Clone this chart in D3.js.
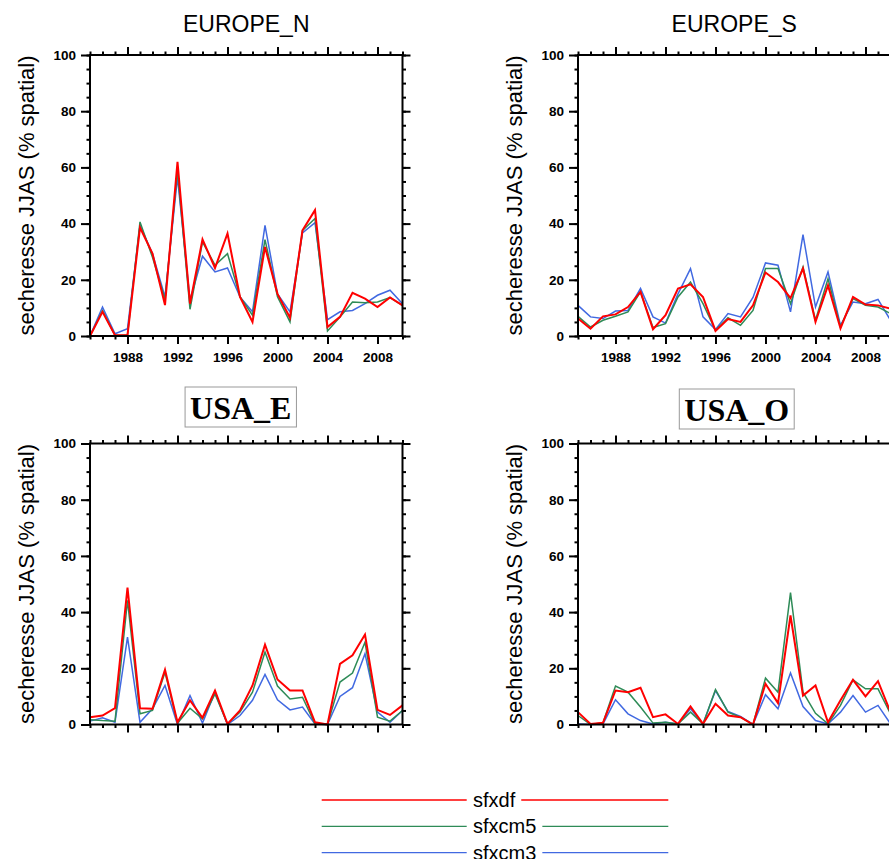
<!DOCTYPE html>
<html>
<head>
<meta charset="utf-8">
<style>
  body { margin: 0; background: #fff; }
  .frame { fill: none; stroke: #000; stroke-width: 2px; }
  .series { fill: none; stroke-linejoin: miter; }
</style>
</head>
<body>
<svg id="chart" width="889" height="859"></svg>

<script src="https://d3js.org/d3.v7.min.js"></script>
<script>
  const years = [1985, 1986, 1987, 1988, 1989, 1990, 1991, 1992, 1993, 1994, 1995, 1996, 1997,
                 1998, 1999, 2000, 2001, 2002, 2003, 2004, 2005, 2006, 2007, 2008, 2009, 2010];
  const xTickLabels = [1988, 1992, 1996, 2000, 2004, 2008];
  const yTickLabels = [0, 20, 40, 60, 80, 100];
  const seriesNames = ["sfxdf", "sfxcm5", "sfxcm3"];

  // EUROPE_N
  const europeN_sfxdf  = [0, 8.6, 0.3, 0.3, 38.6, 29.3, 11, 62, 11.5, 34.4, 24.2, 36.5, 13.9, 5, 31.7, 15, 6.5, 37.6, 44.8, 3.2, 6.8, 15.4, 13.3, 10.3, 13.7, 10.9];
  const europeN_sfxcm5 = [0, 9, 0.2, 0.4, 40.6, 28, 13, 59, 9.5, 33.5, 25.2, 29.3, 14, 7.4, 34.3, 14, 5, 37.6, 41.8, 1.8, 6.8, 12.1, 11.8, 12.1, 13.7, 10.9];
  const europeN_sfxcm3 = [0, 10.3, 0.8, 2.6, 39.4, 29.3, 13.9, 56.5, 12.7, 28.4, 22.8, 24.2, 13.9, 8.6, 39.4, 15, 8.6, 36.7, 40.3, 5.8, 8.6, 9.1, 11.5, 14.5, 16.3, 11.5];

  // EUROPE_S
  const europeS_sfxdf  = [6.2, 2.6, 7, 7.7, 10.3, 15.7, 2.4, 7.4, 16.9, 18.4, 13.9, 1.8, 6, 5, 10.9, 22.6, 19.2, 13.5, 24, 5, 18, 2.7, 13.9, 11.2, 10.9, 9.7];
  const europeS_sfxcm5 = [7, 3.2, 5.6, 7, 8.6, 15.7, 3, 4.4, 13.9, 19.2, 11.5, 2, 6.5, 3.8, 9.1, 24, 24, 11.5, 24.6, 5.6, 20.4, 3.2, 13.3, 10.9, 10.3, 8];
  const europeS_sfxcm3 = [10.9, 6.8, 6.2, 8.9, 9.1, 16.9, 6.8, 4.6, 15, 24, 6.8, 2.3, 8, 6.8, 13.7, 26, 25.2, 8.6, 36.1, 10.3, 22.8, 3.8, 12.1, 11.5, 13, 5.6];

  // USA_E
  const usaE_sfxdf  = [2.6, 3.2, 5.8, 48.7, 5.8, 5.6, 19.5, 0.8, 8.6, 2.4, 12.1, 0.2, 5, 13.9, 28.4, 16, 12.1, 12.1, 0.8, 0, 21.6, 24.6, 32, 5.2, 3.4, 6.8];
  const usaE_sfxcm5 = [1.7, 1.4, 1.2, 44.2, 3.8, 5, 18.6, 0.5, 5.8, 2, 10.9, 0.2, 4.4, 11.5, 25.8, 13.7, 9.1, 9.7, 0.2, 0, 15.1, 18.3, 29.3, 2.6, 1.2, 5];
  const usaE_sfxcm3 = [1.2, 2.4, 0.8, 31.1, 0.8, 5.6, 13.9, 0, 10.3, 0.5, 11.5, 0, 3.2, 8.6, 17.8, 8.8, 5.2, 6.2, 0.2, 0, 10, 13.1, 25.2, 4.4, 0.8, 5];

  // USA_O
  const usaO_sfxdf  = [4.4, 0.2, 0.6, 12.1, 11.5, 13.1, 2.6, 3.6, 0.2, 6.4, 0.2, 7.4, 3.2, 2.6, 0, 14.5, 7.6, 38.8, 10.3, 13.9, 0.8, 8.6, 15.9, 10, 15.4, 4.4];
  const usaO_sfxcm5 = [3.2, 0, 0.6, 13.7, 11.5, 6.2, 0.5, 0.8, 0.2, 4.4, 0.2, 12.4, 4.4, 2.6, 0, 16.5, 11.5, 46.9, 11.5, 4, 0.2, 6.8, 15.9, 12.7, 12.7, 3.8];
  const usaO_sfxcm3 = [0.2, 0, 0.2, 8.8, 3.8, 1.4, 0.2, 0.8, 0.2, 5.6, 0.2, 12.1, 4.6, 2.9, 0, 10.6, 5.6, 18.3, 6.4, 1.4, 0.2, 4.4, 10.3, 4.4, 6.8, 0.2];

  const colors = { sfxdf: "#ff0000", sfxcm5: "#2e8b57", sfxcm3: "#4169e1" };
  const widths = { sfxdf: 2, sfxcm5: 1.5, sfxcm3: 1.5 };

  const panels = [
    { title: "EUROPE_N", left: 90,  top: 55,    boxed: false, xLabels: true,  series: { sfxdf: europeN_sfxdf, sfxcm5: europeN_sfxcm5, sfxcm3: europeN_sfxcm3 } },
    { title: "EUROPE_S", left: 578, top: 55,    boxed: false, xLabels: true,  series: { sfxdf: europeS_sfxdf, sfxcm5: europeS_sfxcm5, sfxcm3: europeS_sfxcm3 } },
    { title: "USA_E",    left: 90,  top: 443.5, boxed: true,  xLabels: false, titleDx: -5.5, titleY: -24.5, series: { sfxdf: usaE_sfxdf, sfxcm5: usaE_sfxcm5, sfxcm3: usaE_sfxcm3 } },
    { title: "USA_O",    left: 578, top: 443.5, boxed: true,  xLabels: false, titleDx: 2.5,  titleY: -22.5, series: { sfxdf: usaO_sfxdf, sfxcm5: usaO_sfxcm5, sfxcm3: usaO_sfxcm3 } }
  ];

  const pw = 312.5, ph = 281;
  const svg = d3.select("#chart");

  const x = d3.scaleLinear().domain([1985, 2010]).range([0, pw]);
  const y = d3.scaleLinear().domain([0, 100]).range([ph, 0]);
  const minorY = d3.range(0, 101, 5);

  panels.forEach(p => {
    const g = svg.append("g").attr("transform", `translate(${p.left},${p.top})`);

    // series lines (drawn back to front)
    const line = d3.line().x((d, i) => x(years[i])).y(d => y(d));
    ["sfxcm3", "sfxcm5", "sfxdf"].forEach(name => {
      g.append("path")
        .attr("class", "series")
        .attr("d", line(p.series[name]))
        .attr("stroke", colors[name])
        .attr("stroke-width", widths[name]);
    });

    // minor ticks
    const minorBottom = d3.axisBottom(x).tickValues(years).tickSize(3.5).tickFormat("");
    const minorTop = d3.axisTop(x).tickValues(years).tickSize(3.5).tickFormat("");
    const minorLeft = d3.axisLeft(y).tickValues(minorY).tickSize(3.5).tickFormat("");
    const minorRight = d3.axisRight(y).tickValues(minorY).tickSize(3.5).tickFormat("");
    [[minorBottom, ph], [minorTop, 0]].forEach(([ax, ty]) =>
      g.append("g").attr("transform", `translate(0,${ty})`).call(ax.tickSizeOuter(0)));
    [[minorLeft, 0], [minorRight, pw]].forEach(([ax, tx]) =>
      g.append("g").attr("transform", `translate(${tx},0)`).call(ax.tickSizeOuter(0)));

    // major ticks
    const xb = d3.axisBottom(x).tickValues(xTickLabels).tickSize(8).tickPadding(8).tickSizeOuter(0)
      .tickFormat(p.xLabels ? d3.format("d") : "");
    g.append("g").attr("transform", `translate(0,${ph})`).call(xb);
    g.append("g").call(d3.axisTop(x).tickValues(xTickLabels).tickSize(8).tickSizeOuter(0).tickFormat(""));
    g.append("g").call(d3.axisLeft(y).tickValues(yTickLabels).tickSize(9).tickPadding(5).tickSizeOuter(0));
    g.append("g").attr("transform", `translate(${pw},0)`)
      .call(d3.axisRight(y).tickValues(yTickLabels).tickSize(8).tickSizeOuter(0).tickFormat(""));

    g.selectAll(".domain").remove();
    g.selectAll(".tick line").attr("stroke", "#000").attr("stroke-width", 2);
    g.selectAll(".tick text")
      .attr("fill", "#000")
      .attr("font-family", "'Liberation Sans', Arial, sans-serif")
      .attr("font-weight", "bold")
      .attr("font-size", 13.5);

    g.append("rect").attr("class", "frame").attr("width", pw).attr("height", ph);

    // y axis title
    g.append("text")
      .attr("transform", `translate(-64,${ph / 2}) rotate(-90)`)
      .attr("text-anchor", "middle")
      .attr("dominant-baseline", "central")
      .style("font", "22px 'Liberation Sans', Arial, sans-serif")
      .text("secheresse JJAS (% spatial)");

    // panel title
    if (p.boxed) {
      const t = g.append("text")
        .attr("x", pw / 2 + p.titleDx)
        .attr("y", p.titleY)
        .attr("text-anchor", "middle")
        .style("font", "bold 32px 'Liberation Serif', 'Times New Roman', serif")
        .text(p.title);
      const bb = t.node().getBBox();
      g.insert("rect", () => t.node())
        .attr("x", bb.x - 5).attr("y", p.titleY - 32)
        .attr("width", bb.width + 10).attr("height", 40)
        .attr("fill", "#fff").attr("stroke", "#999").attr("stroke-width", 1);
    } else {
      g.append("text")
        .attr("x", pw / 2)
        .attr("y", -23.3)
        .attr("text-anchor", "middle")
        .style("font", "23px 'Liberation Sans', Arial, sans-serif")
        .text(p.title);
    }
  });

  // legend
  const legend = svg.append("g");
  seriesNames.forEach((name, i) => {
    const ly = 800 + i * 26.3;
    const row = legend.append("g");
    row.append("line").attr("x1", 321.7).attr("x2", 466.7).attr("y1", ly).attr("y2", ly)
      .attr("stroke", colors[name]).attr("stroke-width", 1.3);
    const t = row.append("text").attr("x", 473).attr("y", ly + 7)
      .style("font", "20px 'Liberation Sans', Arial, sans-serif").text(name);
    const tw = t.node().getComputedTextLength();
    row.append("line").attr("x1", 473 + tw + 6).attr("x2", 668.3).attr("y1", ly).attr("y2", ly)
      .attr("stroke", colors[name]).attr("stroke-width", 1.3);
  });
</script>
</body>
</html>
